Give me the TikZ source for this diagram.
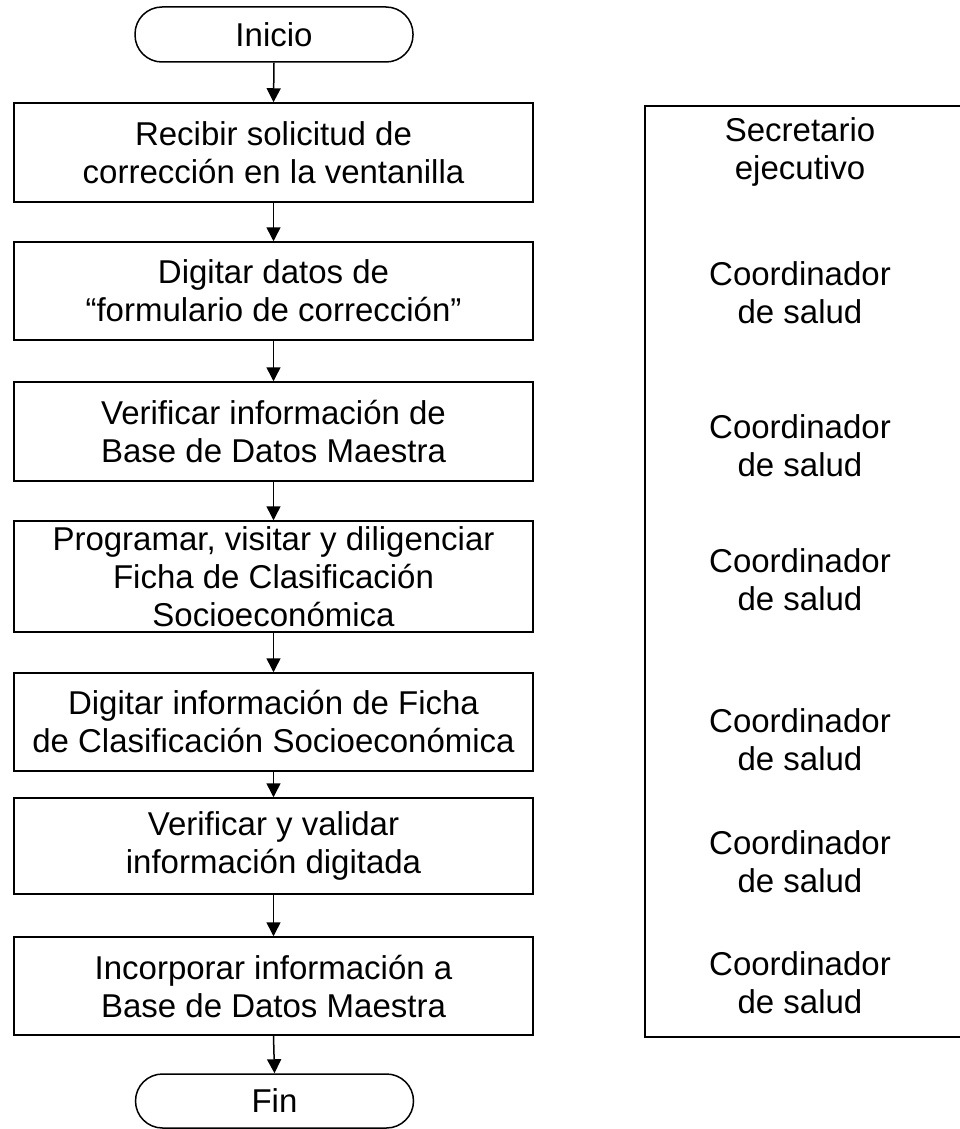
\documentclass[tikz,border=0pt]{standalone}
\usepackage{fontspec}
\setmainfont{Liberation Sans}
\usetikzlibrary{arrows.meta}
\begin{document}
\begin{tikzpicture}[x=1pt,y=-1pt,
  every node/.style={font=\fontsize{33pt}{38pt}\selectfont, align=center, inner sep=0pt},
  procbox/.style={draw, line width=1.5pt, minimum width=519pt},
  termbox/.style={draw, line width=1.5pt, rounded corners=27pt, minimum width=278pt, minimum height=55pt},
  lanebox/.style={draw, line width=1.5pt},
  flow/.style={line width=1.5pt, -{Triangle[length=14pt,width=14pt]}}
]
\clip (0,0) rectangle (960,1129);
\fill[white] (0,0) rectangle (960,1129);

\node[termbox] (ini) at (274,34.5) {Inicio};
\node[procbox, minimum height=99pt] (b1) at (273.5,152.5) {Recibir solicitud de\\corrección en la ventanilla};
\node[procbox, minimum height=98pt] (b2) at (273.5,291) {Digitar datos de\\“formulario de corrección”};
\node[procbox, minimum height=99pt] (b3) at (273.5,431.5) {Verificar información de\\Base de Datos Maestra};
\node[procbox, minimum height=111pt] (b4) at (273.5,576.5) {Programar, visitar y diligenciar\\Ficha de Clasificación\\Socioeconómica};
\node[procbox, minimum height=98pt] (b5) at (273.5,722) {Digitar información de Ficha\\de Clasificación Socioeconómica};
\node[procbox, minimum height=96pt] (b6) at (273.5,846) {Verificar y validar\\información digitada};
\node[procbox, minimum height=98pt] (b7) at (273.5,986) {Incorporar información a\\Base de Datos Maestra};
\node[termbox, minimum height=54pt] (fin) at (274.5,1101) {Fin};

\draw[flow] (ini.south) -- (b1.north);
\draw[flow] (b1.south) -- (b2.north);
\draw[flow] (b2.south) -- (b3.north);
\draw[flow] (b3.south) -- (b4.north);
\draw[flow] (b4.south) -- (b5.north);
\draw[flow] (b5.south) -- (b6.north);
\draw[flow] (b6.south) -- (b7.north);
\draw[flow] (b7.south) -- (fin.north);

\node[lanebox, minimum width=400pt, minimum height=931pt] (lane) at (845,571.5) {};
\node (r1) at (800,152) {Secretario\\ejecutivo};
\node (r2) at (800,293) {Coordinador\\de salud};
\node (r3) at (800,445.5) {Coordinador\\de salud};
\node (r4) at (800,580) {Coordinador\\de salud};
\node (r5) at (800,740) {Coordinador\\de salud};
\node (r6) at (800,862) {Coordinador\\de salud};
\node (r7) at (800,983) {Coordinador\\de salud};
\end{tikzpicture}
\end{document}
